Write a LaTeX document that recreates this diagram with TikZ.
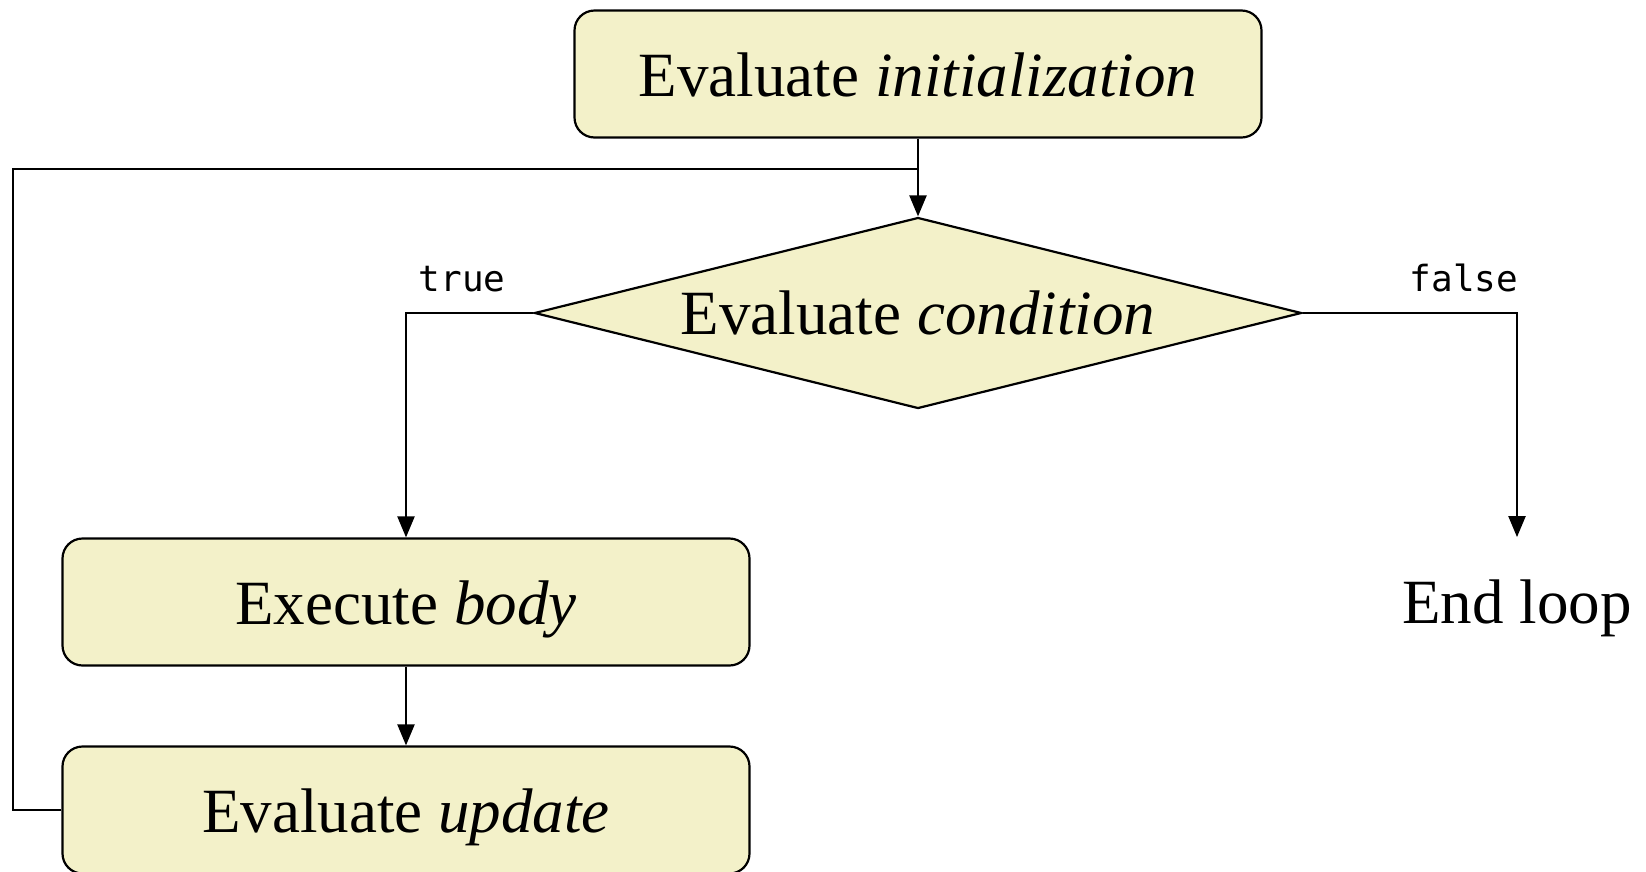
\documentclass[tikz,border=0pt]{standalone}
\usepackage{fontspec}
\setmainfont{Liberation Serif}
\newfontfamily\labelmono{DejaVu Sans Mono}
\usetikzlibrary{shapes.geometric,arrows.meta}
\definecolor{boxfill}{RGB}{243,241,201}
\tikzset{
  stepbox/.style={draw=black, line width=2.2pt, fill=boxfill, rounded corners=20pt,
    minimum width=687pt, minimum height=127pt, inner sep=0pt, text height=44pt, text depth=0pt,
    font=\fontsize{63}{70}\selectfont},
  decision/.style={draw=black, line width=2.2pt, fill=boxfill, diamond, aspect=4.016,
    minimum width=767pt, minimum height=191pt, inner sep=0pt,
    font=\fontsize{63}{70}\selectfont},
  plain/.style={inner sep=0pt, font=\fontsize{63}{70}\selectfont},
  branchlabel/.style={inner sep=0pt, font=\labelmono\fontsize{36}{40}\selectfont},
  conn/.style={line width=2.2pt, draw=black},
  arr/.style={conn, -{Triangle[length=21pt,width=17pt]}}
}
\begin{document}
\begin{tikzpicture}[x=1pt,y=-1pt]
\clip (0,0) rectangle (1646,871);
\fill[white] (0,0) rectangle (1646,871);
\node[stepbox] (init) at (918,74) {Evaluate \textit{initialization}};
\node[decision] (cond) at (918,313) {Evaluate \textit{condition}};
\node[stepbox] (body) at (406,602) {Execute \textit{body}};
\node[stepbox] (upd) at (406,810) {Evaluate \textit{update}};
\node[plain, anchor=base] (end) at (1517,623) {End loop};
\node[branchlabel, anchor=base] (tl) at (462,291) {true};
\node[branchlabel, anchor=base] (fl) at (1464,291) {false};
\coordinate (j) at (918,169);
\coordinate (corner) at (12.6,169);
\draw[arr] (init.south) -- (cond.north);
\draw[conn] (upd.west) -| (corner) -- (j);
\draw[arr] (cond.west) -| (body.north);
\draw[arr, shorten >=42pt] (cond.east) -| (end.north);
\draw[arr] (body.south) -- (upd.north);
\end{tikzpicture}
\end{document}
